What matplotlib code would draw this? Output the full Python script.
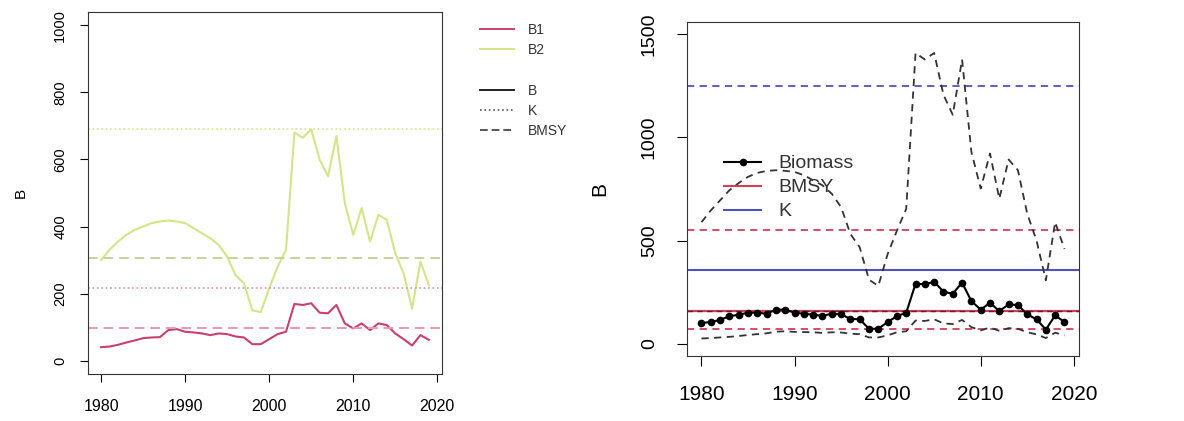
import numpy as np
import matplotlib.pyplot as plt
from matplotlib.lines import Line2D

plt.rcParams['font.family'] = ['Liberation Sans', 'DejaVu Sans']

years = np.arange(1980, 2020)

# two-stock biomass trajectories (left panel)
b1 = [40, 42, 47, 54, 60, 67, 69, 70, 91, 94,
      86, 84, 81, 76, 81, 79, 72, 69, 49, 49,
      64, 79, 86, 169, 166, 171, 143, 141, 166, 111,
      96, 111, 91, 111, 106, 81, 64, 45, 76, 62]
b2 = [300, 330, 355, 375, 390, 400, 410, 415, 418, 415,
      410, 395, 380, 365, 345, 310, 255, 230, 150, 145,
      215, 280, 330, 680, 665, 690, 600, 550, 670, 470,
      375, 455, 355, 435, 420, 320, 260, 155, 295, 225]
k_b1, bmsy_b1 = 218, 97
k_b2, bmsy_b2 = 690, 305

# pooled biomass with interval (right panel)
biomass = [100, 105, 115, 133, 140, 150, 150, 145, 165, 165,
           150, 145, 140, 135, 145, 142, 120, 118, 72, 72,
           105, 133, 150, 290, 288, 300, 252, 242, 296, 206,
           165, 198, 158, 190, 187, 142, 118, 68, 137, 105]
biomass_hi = [589, 646, 695, 744, 779, 809, 828, 838, 841, 838,
              833, 817, 792, 768, 727, 662, 532, 467, 310, 280,
              434, 548, 654, 1410, 1378, 1410, 1207, 1110, 1378, 930,
              752, 922, 703, 893, 841, 630, 500, 307, 589, 459]
biomass_lo = [25, 27, 30, 33, 37, 42, 46, 50, 58, 60,
              57, 56, 55, 52, 55, 54, 48, 46, 30, 30,
              40, 55, 60, 112, 110, 118, 98, 95, 115, 80,
              64, 78, 62, 75, 72, 55, 45, 27, 53, 40]
bmsy, bmsy_lo, bmsy_hi = 158, 72, 550
k, k_hi = 355, 1248

c_b1 = '#c8416e'
c_b2 = '#d3e48a'
c_red = '#d0405a'
c_blue = '#5050c0'

fig = plt.figure(figsize=(11.84, 4.21), dpi=100)

# ---- left: B1 / B2
ax1 = fig.add_axes([0.0743, 0.1116, 0.299, 0.86])
ax1.plot(years, b2, color=c_b2, lw=1.5)
ax1.plot(years, b1, color=c_b1, lw=1.5)
ax1.axhline(k_b2, color=c_b2, ls=':', lw=1.2)
ax1.axhline(bmsy_b2, color='#c8d2a0', ls=(0, (5, 3)), lw=1.4)
ax1.axhline(k_b1, color='#e090b0', ls=':', lw=1.2)
ax1.axhline(bmsy_b1, color='#e898b8', ls=(0, (5, 3)), lw=1.4)
ax1.set_xlim(1978.44, 2020.56)
ax1.set_ylim(-40, 1040)
ax1.set_xticks([1980, 1990, 2000, 2010, 2020])
ax1.set_yticks(range(0, 1001, 200))
ax1.tick_params(axis='x', labelsize=11.5, length=6, pad=12)
ax1.tick_params(axis='y', labelsize=10.5, length=6, pad=9)
for t in ax1.get_yticklabels():
    t.set_rotation(90)
    t.set_va('center')
ax1.set_ylabel('B', fontsize=11, labelpad=18)
for s in ax1.spines.values():
    s.set_color('#333333')

handles = [Line2D([], [], color=c_b1, lw=1.4),
           Line2D([], [], color=c_b2, lw=1.4),
           Line2D([], [], color='none'),
           Line2D([], [], color='#222222', lw=1.4),
           Line2D([], [], color='#555555', lw=1.2, ls=':'),
           Line2D([], [], color='#555555', lw=1.4, ls=(0, (4, 2)))]
labels = ['B1', 'B2', '', 'B', 'K', 'BMSY']
fig.legend(handles, labels, loc='upper left', bbox_to_anchor=(0.395, 0.975),
           frameon=False, fontsize=10, handlelength=2.4, labelspacing=0.45,
           handletextpad=1.0, labelcolor='#333333')

# ---- right: pooled biomass with reference points
ax2 = fig.add_axes([0.5802, 0.1544, 0.3311, 0.7933])
ax2.axhline(k_hi, color=c_blue, ls=(0, (4, 3)), lw=1.3)
ax2.axhline(k, color=c_blue, lw=1.5)
ax2.axhline(bmsy_hi, color=c_red, ls=(0, (4, 3)), lw=1.3)
ax2.axhline(bmsy, color=c_red, lw=1.6)
ax2.axhline(bmsy, color='#602030', ls=(0, (4, 3)), lw=1.0)
ax2.axhline(bmsy_lo, color=c_red, ls=(0, (4, 3)), lw=1.3)
ax2.plot(years, biomass_hi, color='#333333', ls=(0, (4, 3)), lw=1.3)
ax2.plot(years, biomass_lo, color='#333333', ls=(0, (4, 3)), lw=1.3)
ax2.plot(years, biomass, color='black', lw=1.5, marker='o', ms=4.5)
ax2.set_xlim(1978.44, 2020.56)
ax2.set_ylim(-60, 1560)
ax2.set_xticks([1980, 1990, 2000, 2010, 2020])
ax2.set_yticks([0, 500, 1000, 1500])
ax2.tick_params(axis='x', labelsize=15, length=7, pad=14)
ax2.tick_params(axis='y', labelsize=14, length=7, pad=14)
for t in ax2.get_yticklabels():
    t.set_rotation(90)
    t.set_va('center')
ax2.set_ylabel('B', fontsize=15, labelpad=23)
for s in ax2.spines.values():
    s.set_color('#333333')

h2 = [Line2D([], [], color='black', lw=1.5, marker='o', ms=4.5),
      Line2D([], [], color=c_red, lw=1.5),
      Line2D([], [], color=c_blue, lw=1.5)]
ax2.legend(h2, ['Biomass', 'BMSY', 'K'], loc='upper left',
           bbox_to_anchor=(0.05, 0.655), frameon=False, fontsize=14,
           handlelength=1.9, labelspacing=0.33, handletextpad=0.9,
           labelcolor='#333333')

fig.savefig('out.png', dpi=100)
